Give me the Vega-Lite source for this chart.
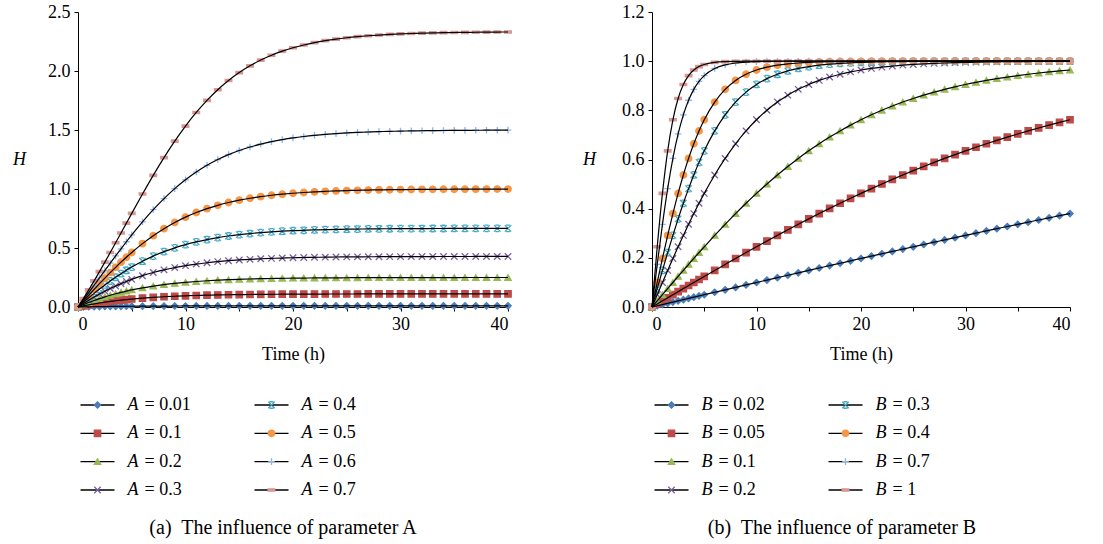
{
"$schema":"https://vega.github.io/schema/vega-lite/v6.json",
"background":"white",
"padding":{"left":12,"top":3,"right":5,"bottom":5},
"bounds":"flush",
"columns":2,
"spacing":{"row":82,"column":144},
"resolve":{"scale":{"shape":"independent","fill":"independent","stroke":"independent","size":"independent","x":"independent","y":"independent"}},
"datasets":{
"a":[
{"t":0,"H":0,"s":"0.01"},{"t":0.5,"H":0.001,"s":"0.01"},{"t":1,"H":0.0018,"s":"0.01"},{"t":1.5,"H":0.0026,"s":"0.01"},{"t":2,"H":0.0033,"s":"0.01"},{"t":2.5,"H":0.004,"s":"0.01"},{"t":3,"H":0.0046,"s":"0.01"},{"t":3.5,"H":0.0051,"s":"0.01"},{"t":4,"H":0.0056,"s":"0.01"},{"t":4.5,"H":0.006,"s":"0.01"},{"t":5,"H":0.0064,"s":"0.01"},{"t":6,"H":0.0071,"s":"0.01"},{"t":7,"H":0.0076,"s":"0.01"},{"t":8,"H":0.0081,"s":"0.01"},{"t":9,"H":0.0084,"s":"0.01"},{"t":10,"H":0.0087,"s":"0.01"},{"t":11,"H":0.009,"s":"0.01"},{"t":12,"H":0.0092,"s":"0.01"},{"t":13,"H":0.0094,"s":"0.01"},{"t":14,"H":0.0095,"s":"0.01"},{"t":15,"H":0.0096,"s":"0.01"},{"t":16,"H":0.0097,"s":"0.01"},{"t":17,"H":0.0098,"s":"0.01"},{"t":18,"H":0.0098,"s":"0.01"},{"t":19,"H":0.0099,"s":"0.01"},{"t":20,"H":0.0099,"s":"0.01"},{"t":21,"H":0.01,"s":"0.01"},{"t":22,"H":0.01,"s":"0.01"},{"t":23,"H":0.01,"s":"0.01"},{"t":24,"H":0.01,"s":"0.01"},{"t":25,"H":0.01,"s":"0.01"},{"t":26,"H":0.0101,"s":"0.01"},{"t":27,"H":0.0101,"s":"0.01"},{"t":28,"H":0.0101,"s":"0.01"},{"t":29,"H":0.0101,"s":"0.01"},{"t":30,"H":0.0101,"s":"0.01"},{"t":31,"H":0.0101,"s":"0.01"},{"t":32,"H":0.0101,"s":"0.01"},{"t":33,"H":0.0101,"s":"0.01"},{"t":34,"H":0.0101,"s":"0.01"},{"t":35,"H":0.0101,"s":"0.01"},{"t":36,"H":0.0101,"s":"0.01"},{"t":37,"H":0.0101,"s":"0.01"},{"t":38,"H":0.0101,"s":"0.01"},{"t":39,"H":0.0101,"s":"0.01"},{"t":40,"H":0.0101,"s":"0.01"},
{"t":0,"H":0,"s":"0.1"},{"t":0.5,"H":0.0096,"s":"0.1"},{"t":1,"H":0.0185,"s":"0.1"},{"t":1.5,"H":0.0266,"s":"0.1"},{"t":2,"H":0.0341,"s":"0.1"},{"t":2.5,"H":0.041,"s":"0.1"},{"t":3,"H":0.0473,"s":"0.1"},{"t":3.5,"H":0.053,"s":"0.1"},{"t":4,"H":0.0583,"s":"0.1"},{"t":4.5,"H":0.0631,"s":"0.1"},{"t":5,"H":0.0675,"s":"0.1"},{"t":6,"H":0.0751,"s":"0.1"},{"t":7,"H":0.0815,"s":"0.1"},{"t":8,"H":0.0867,"s":"0.1"},{"t":9,"H":0.0911,"s":"0.1"},{"t":10,"H":0.0947,"s":"0.1"},{"t":11,"H":0.0976,"s":"0.1"},{"t":12,"H":0.1,"s":"0.1"},{"t":13,"H":0.102,"s":"0.1"},{"t":14,"H":0.1037,"s":"0.1"},{"t":15,"H":0.105,"s":"0.1"},{"t":16,"H":0.1061,"s":"0.1"},{"t":17,"H":0.107,"s":"0.1"},{"t":18,"H":0.1078,"s":"0.1"},{"t":19,"H":0.1084,"s":"0.1"},{"t":20,"H":0.1089,"s":"0.1"},{"t":21,"H":0.1093,"s":"0.1"},{"t":22,"H":0.1096,"s":"0.1"},{"t":23,"H":0.1099,"s":"0.1"},{"t":24,"H":0.1101,"s":"0.1"},{"t":25,"H":0.1103,"s":"0.1"},{"t":26,"H":0.1104,"s":"0.1"},{"t":27,"H":0.1106,"s":"0.1"},{"t":28,"H":0.1107,"s":"0.1"},{"t":29,"H":0.1107,"s":"0.1"},{"t":30,"H":0.1108,"s":"0.1"},{"t":31,"H":0.1109,"s":"0.1"},{"t":32,"H":0.1109,"s":"0.1"},{"t":33,"H":0.1109,"s":"0.1"},{"t":34,"H":0.111,"s":"0.1"},{"t":35,"H":0.111,"s":"0.1"},{"t":36,"H":0.111,"s":"0.1"},{"t":37,"H":0.111,"s":"0.1"},{"t":38,"H":0.111,"s":"0.1"},{"t":39,"H":0.111,"s":"0.1"},{"t":40,"H":0.111,"s":"0.1"},
{"t":0,"H":0,"s":"0.2"},{"t":0.5,"H":0.0194,"s":"0.2"},{"t":1,"H":0.0376,"s":"0.2"},{"t":1.5,"H":0.0547,"s":"0.2"},{"t":2,"H":0.0706,"s":"0.2"},{"t":2.5,"H":0.0854,"s":"0.2"},{"t":3,"H":0.0992,"s":"0.2"},{"t":3.5,"H":0.112,"s":"0.2"},{"t":4,"H":0.1238,"s":"0.2"},{"t":4.5,"H":0.1347,"s":"0.2"},{"t":5,"H":0.1447,"s":"0.2"},{"t":6,"H":0.1625,"s":"0.2"},{"t":7,"H":0.1774,"s":"0.2"},{"t":8,"H":0.1899,"s":"0.2"},{"t":9,"H":0.2004,"s":"0.2"},{"t":10,"H":0.2091,"s":"0.2"},{"t":11,"H":0.2163,"s":"0.2"},{"t":12,"H":0.2223,"s":"0.2"},{"t":13,"H":0.2272,"s":"0.2"},{"t":14,"H":0.2313,"s":"0.2"},{"t":15,"H":0.2346,"s":"0.2"},{"t":16,"H":0.2374,"s":"0.2"},{"t":17,"H":0.2397,"s":"0.2"},{"t":18,"H":0.2415,"s":"0.2"},{"t":19,"H":0.2431,"s":"0.2"},{"t":20,"H":0.2443,"s":"0.2"},{"t":21,"H":0.2453,"s":"0.2"},{"t":22,"H":0.2462,"s":"0.2"},{"t":23,"H":0.2469,"s":"0.2"},{"t":24,"H":0.2474,"s":"0.2"},{"t":25,"H":0.2479,"s":"0.2"},{"t":26,"H":0.2483,"s":"0.2"},{"t":27,"H":0.2486,"s":"0.2"},{"t":28,"H":0.2489,"s":"0.2"},{"t":29,"H":0.2491,"s":"0.2"},{"t":30,"H":0.2492,"s":"0.2"},{"t":31,"H":0.2494,"s":"0.2"},{"t":32,"H":0.2495,"s":"0.2"},{"t":33,"H":0.2496,"s":"0.2"},{"t":34,"H":0.2497,"s":"0.2"},{"t":35,"H":0.2497,"s":"0.2"},{"t":36,"H":0.2498,"s":"0.2"},{"t":37,"H":0.2498,"s":"0.2"},{"t":38,"H":0.2498,"s":"0.2"},{"t":39,"H":0.2499,"s":"0.2"},{"t":40,"H":0.2499,"s":"0.2"},
{"t":0,"H":0,"s":"0.3"},{"t":0.5,"H":0.0294,"s":"0.3"},{"t":1,"H":0.0575,"s":"0.3"},{"t":1.5,"H":0.0843,"s":"0.3"},{"t":2,"H":0.1098,"s":"0.3"},{"t":2.5,"H":0.1338,"s":"0.3"},{"t":3,"H":0.1566,"s":"0.3"},{"t":3.5,"H":0.1779,"s":"0.3"},{"t":4,"H":0.1979,"s":"0.3"},{"t":4.5,"H":0.2166,"s":"0.3"},{"t":5,"H":0.234,"s":"0.3"},{"t":6,"H":0.2653,"s":"0.3"},{"t":7,"H":0.292,"s":"0.3"},{"t":8,"H":0.3148,"s":"0.3"},{"t":9,"H":0.3341,"s":"0.3"},{"t":10,"H":0.3503,"s":"0.3"},{"t":11,"H":0.3638,"s":"0.3"},{"t":12,"H":0.3751,"s":"0.3"},{"t":13,"H":0.3845,"s":"0.3"},{"t":14,"H":0.3923,"s":"0.3"},{"t":15,"H":0.3987,"s":"0.3"},{"t":16,"H":0.404,"s":"0.3"},{"t":17,"H":0.4084,"s":"0.3"},{"t":18,"H":0.412,"s":"0.3"},{"t":19,"H":0.415,"s":"0.3"},{"t":20,"H":0.4174,"s":"0.3"},{"t":21,"H":0.4195,"s":"0.3"},{"t":22,"H":0.4211,"s":"0.3"},{"t":23,"H":0.4224,"s":"0.3"},{"t":24,"H":0.4236,"s":"0.3"},{"t":25,"H":0.4245,"s":"0.3"},{"t":26,"H":0.4252,"s":"0.3"},{"t":27,"H":0.4258,"s":"0.3"},{"t":28,"H":0.4263,"s":"0.3"},{"t":29,"H":0.4267,"s":"0.3"},{"t":30,"H":0.4271,"s":"0.3"},{"t":31,"H":0.4273,"s":"0.3"},{"t":32,"H":0.4276,"s":"0.3"},{"t":33,"H":0.4277,"s":"0.3"},{"t":34,"H":0.4279,"s":"0.3"},{"t":35,"H":0.428,"s":"0.3"},{"t":36,"H":0.4281,"s":"0.3"},{"t":37,"H":0.4282,"s":"0.3"},{"t":38,"H":0.4283,"s":"0.3"},{"t":39,"H":0.4283,"s":"0.3"},{"t":40,"H":0.4284,"s":"0.3"},
{"t":0,"H":0,"s":"0.4"},{"t":0.5,"H":0.0396,"s":"0.4"},{"t":1,"H":0.0782,"s":"0.4"},{"t":1.5,"H":0.1157,"s":"0.4"},{"t":2,"H":0.1519,"s":"0.4"},{"t":2.5,"H":0.1868,"s":"0.4"},{"t":3,"H":0.2202,"s":"0.4"},{"t":3.5,"H":0.2521,"s":"0.4"},{"t":4,"H":0.2825,"s":"0.4"},{"t":4.5,"H":0.3113,"s":"0.4"},{"t":5,"H":0.3384,"s":"0.4"},{"t":6,"H":0.388,"s":"0.4"},{"t":7,"H":0.4314,"s":"0.4"},{"t":8,"H":0.469,"s":"0.4"},{"t":9,"H":0.5012,"s":"0.4"},{"t":10,"H":0.5287,"s":"0.4"},{"t":11,"H":0.552,"s":"0.4"},{"t":12,"H":0.5716,"s":"0.4"},{"t":13,"H":0.588,"s":"0.4"},{"t":14,"H":0.6017,"s":"0.4"},{"t":15,"H":0.6131,"s":"0.4"},{"t":16,"H":0.6226,"s":"0.4"},{"t":17,"H":0.6304,"s":"0.4"},{"t":18,"H":0.6369,"s":"0.4"},{"t":19,"H":0.6422,"s":"0.4"},{"t":20,"H":0.6466,"s":"0.4"},{"t":21,"H":0.6502,"s":"0.4"},{"t":22,"H":0.6531,"s":"0.4"},{"t":23,"H":0.6556,"s":"0.4"},{"t":24,"H":0.6576,"s":"0.4"},{"t":25,"H":0.6592,"s":"0.4"},{"t":26,"H":0.6606,"s":"0.4"},{"t":27,"H":0.6617,"s":"0.4"},{"t":28,"H":0.6626,"s":"0.4"},{"t":29,"H":0.6633,"s":"0.4"},{"t":30,"H":0.6639,"s":"0.4"},{"t":31,"H":0.6644,"s":"0.4"},{"t":32,"H":0.6648,"s":"0.4"},{"t":33,"H":0.6652,"s":"0.4"},{"t":34,"H":0.6654,"s":"0.4"},{"t":35,"H":0.6657,"s":"0.4"},{"t":36,"H":0.6658,"s":"0.4"},{"t":37,"H":0.666,"s":"0.4"},{"t":38,"H":0.6661,"s":"0.4"},{"t":39,"H":0.6662,"s":"0.4"},{"t":40,"H":0.6663,"s":"0.4"},
{"t":0,"H":0,"s":"0.5"},{"t":0.5,"H":0.05,"s":"0.5"},{"t":1,"H":0.0997,"s":"0.5"},{"t":1.5,"H":0.1489,"s":"0.5"},{"t":2,"H":0.1974,"s":"0.5"},{"t":2.5,"H":0.2449,"s":"0.5"},{"t":3,"H":0.2913,"s":"0.5"},{"t":3.5,"H":0.3364,"s":"0.5"},{"t":4,"H":0.38,"s":"0.5"},{"t":4.5,"H":0.4219,"s":"0.5"},{"t":5,"H":0.4621,"s":"0.5"},{"t":6,"H":0.5371,"s":"0.5"},{"t":7,"H":0.6044,"s":"0.5"},{"t":8,"H":0.664,"s":"0.5"},{"t":9,"H":0.7163,"s":"0.5"},{"t":10,"H":0.7616,"s":"0.5"},{"t":11,"H":0.8005,"s":"0.5"},{"t":12,"H":0.8337,"s":"0.5"},{"t":13,"H":0.8617,"s":"0.5"},{"t":14,"H":0.8854,"s":"0.5"},{"t":15,"H":0.9052,"s":"0.5"},{"t":16,"H":0.9217,"s":"0.5"},{"t":17,"H":0.9354,"s":"0.5"},{"t":18,"H":0.9468,"s":"0.5"},{"t":19,"H":0.9562,"s":"0.5"},{"t":20,"H":0.964,"s":"0.5"},{"t":21,"H":0.9705,"s":"0.5"},{"t":22,"H":0.9757,"s":"0.5"},{"t":23,"H":0.9801,"s":"0.5"},{"t":24,"H":0.9837,"s":"0.5"},{"t":25,"H":0.9866,"s":"0.5"},{"t":26,"H":0.989,"s":"0.5"},{"t":27,"H":0.991,"s":"0.5"},{"t":28,"H":0.9926,"s":"0.5"},{"t":29,"H":0.994,"s":"0.5"},{"t":30,"H":0.9951,"s":"0.5"},{"t":31,"H":0.9959,"s":"0.5"},{"t":32,"H":0.9967,"s":"0.5"},{"t":33,"H":0.9973,"s":"0.5"},{"t":34,"H":0.9978,"s":"0.5"},{"t":35,"H":0.9982,"s":"0.5"},{"t":36,"H":0.9985,"s":"0.5"},{"t":37,"H":0.9988,"s":"0.5"},{"t":38,"H":0.999,"s":"0.5"},{"t":39,"H":0.9992,"s":"0.5"},{"t":40,"H":0.9993,"s":"0.5"},
{"t":0,"H":0,"s":"0.6"},{"t":0.5,"H":0.0606,"s":"0.6"},{"t":1,"H":0.122,"s":"0.6"},{"t":1.5,"H":0.1842,"s":"0.6"},{"t":2,"H":0.2466,"s":"0.6"},{"t":2.5,"H":0.309,"s":"0.6"},{"t":3,"H":0.3712,"s":"0.6"},{"t":3.5,"H":0.4328,"s":"0.6"},{"t":4,"H":0.4934,"s":"0.6"},{"t":4.5,"H":0.5529,"s":"0.6"},{"t":5,"H":0.611,"s":"0.6"},{"t":6,"H":0.722,"s":"0.6"},{"t":7,"H":0.825,"s":"0.6"},{"t":8,"H":0.9189,"s":"0.6"},{"t":9,"H":1.0033,"s":"0.6"},{"t":10,"H":1.0781,"s":"0.6"},{"t":11,"H":1.1437,"s":"0.6"},{"t":12,"H":1.2006,"s":"0.6"},{"t":13,"H":1.2494,"s":"0.6"},{"t":14,"H":1.291,"s":"0.6"},{"t":15,"H":1.3263,"s":"0.6"},{"t":16,"H":1.356,"s":"0.6"},{"t":17,"H":1.3808,"s":"0.6"},{"t":18,"H":1.4016,"s":"0.6"},{"t":19,"H":1.4188,"s":"0.6"},{"t":20,"H":1.4332,"s":"0.6"},{"t":21,"H":1.445,"s":"0.6"},{"t":22,"H":1.4548,"s":"0.6"},{"t":23,"H":1.4629,"s":"0.6"},{"t":24,"H":1.4695,"s":"0.6"},{"t":25,"H":1.475,"s":"0.6"},{"t":26,"H":1.4795,"s":"0.6"},{"t":27,"H":1.4832,"s":"0.6"},{"t":28,"H":1.4862,"s":"0.6"},{"t":29,"H":1.4887,"s":"0.6"},{"t":30,"H":1.4907,"s":"0.6"},{"t":31,"H":1.4924,"s":"0.6"},{"t":32,"H":1.4938,"s":"0.6"},{"t":33,"H":1.4949,"s":"0.6"},{"t":34,"H":1.4958,"s":"0.6"},{"t":35,"H":1.4966,"s":"0.6"},{"t":36,"H":1.4972,"s":"0.6"},{"t":37,"H":1.4977,"s":"0.6"},{"t":38,"H":1.4981,"s":"0.6"},{"t":39,"H":1.4985,"s":"0.6"},{"t":40,"H":1.4987,"s":"0.6"},
{"t":0,"H":0,"s":"0.7"},{"t":0.5,"H":0.0714,"s":"0.7"},{"t":1,"H":0.1453,"s":"0.7"},{"t":1.5,"H":0.2216,"s":"0.7"},{"t":2,"H":0.3,"s":"0.7"},{"t":2.5,"H":0.3801,"s":"0.7"},{"t":3,"H":0.4616,"s":"0.7"},{"t":3.5,"H":0.5441,"s":"0.7"},{"t":4,"H":0.6273,"s":"0.7"},{"t":4.5,"H":0.7106,"s":"0.7"},{"t":5,"H":0.7937,"s":"0.7"},{"t":6,"H":0.9576,"s":"0.7"},{"t":7,"H":1.1159,"s":"0.7"},{"t":8,"H":1.2659,"s":"0.7"},{"t":9,"H":1.4055,"s":"0.7"},{"t":10,"H":1.5333,"s":"0.7"},{"t":11,"H":1.6486,"s":"0.7"},{"t":12,"H":1.751,"s":"0.7"},{"t":13,"H":1.841,"s":"0.7"},{"t":14,"H":1.9191,"s":"0.7"},{"t":15,"H":1.9864,"s":"0.7"},{"t":16,"H":2.0438,"s":"0.7"},{"t":17,"H":2.0925,"s":"0.7"},{"t":18,"H":2.1336,"s":"0.7"},{"t":19,"H":2.168,"s":"0.7"},{"t":20,"H":2.1967,"s":"0.7"},{"t":21,"H":2.2206,"s":"0.7"},{"t":22,"H":2.2405,"s":"0.7"},{"t":23,"H":2.2569,"s":"0.7"},{"t":24,"H":2.2705,"s":"0.7"},{"t":25,"H":2.2817,"s":"0.7"},{"t":26,"H":2.291,"s":"0.7"},{"t":27,"H":2.2986,"s":"0.7"},{"t":28,"H":2.3048,"s":"0.7"},{"t":29,"H":2.31,"s":"0.7"},{"t":30,"H":2.3142,"s":"0.7"},{"t":31,"H":2.3176,"s":"0.7"},{"t":32,"H":2.3205,"s":"0.7"},{"t":33,"H":2.3228,"s":"0.7"},{"t":34,"H":2.3247,"s":"0.7"},{"t":35,"H":2.3263,"s":"0.7"},{"t":36,"H":2.3275,"s":"0.7"},{"t":37,"H":2.3286,"s":"0.7"},{"t":38,"H":2.3294,"s":"0.7"},{"t":39,"H":2.3302,"s":"0.7"},{"t":40,"H":2.3307,"s":"0.7"}
],
"b":[
{"t":0,"H":0,"s":"0.02"},{"t":0.5,"H":0.005,"s":"0.02"},{"t":1,"H":0.01,"s":"0.02"},{"t":1.5,"H":0.015,"s":"0.02"},{"t":2,"H":0.02,"s":"0.02"},{"t":2.5,"H":0.025,"s":"0.02"},{"t":3,"H":0.03,"s":"0.02"},{"t":3.5,"H":0.035,"s":"0.02"},{"t":4,"H":0.04,"s":"0.02"},{"t":4.5,"H":0.045,"s":"0.02"},{"t":5,"H":0.05,"s":"0.02"},{"t":6,"H":0.0599,"s":"0.02"},{"t":7,"H":0.0699,"s":"0.02"},{"t":8,"H":0.0798,"s":"0.02"},{"t":9,"H":0.0898,"s":"0.02"},{"t":10,"H":0.0997,"s":"0.02"},{"t":11,"H":0.1096,"s":"0.02"},{"t":12,"H":0.1194,"s":"0.02"},{"t":13,"H":0.1293,"s":"0.02"},{"t":14,"H":0.1391,"s":"0.02"},{"t":15,"H":0.1489,"s":"0.02"},{"t":16,"H":0.1587,"s":"0.02"},{"t":17,"H":0.1684,"s":"0.02"},{"t":18,"H":0.1781,"s":"0.02"},{"t":19,"H":0.1877,"s":"0.02"},{"t":20,"H":0.1974,"s":"0.02"},{"t":21,"H":0.207,"s":"0.02"},{"t":22,"H":0.2165,"s":"0.02"},{"t":23,"H":0.226,"s":"0.02"},{"t":24,"H":0.2355,"s":"0.02"},{"t":25,"H":0.2449,"s":"0.02"},{"t":26,"H":0.2543,"s":"0.02"},{"t":27,"H":0.2636,"s":"0.02"},{"t":28,"H":0.2729,"s":"0.02"},{"t":29,"H":0.2821,"s":"0.02"},{"t":30,"H":0.2913,"s":"0.02"},{"t":31,"H":0.3004,"s":"0.02"},{"t":32,"H":0.3095,"s":"0.02"},{"t":33,"H":0.3185,"s":"0.02"},{"t":34,"H":0.3275,"s":"0.02"},{"t":35,"H":0.3364,"s":"0.02"},{"t":36,"H":0.3452,"s":"0.02"},{"t":37,"H":0.354,"s":"0.02"},{"t":38,"H":0.3627,"s":"0.02"},{"t":39,"H":0.3714,"s":"0.02"},{"t":40,"H":0.38,"s":"0.02"},
{"t":0,"H":0,"s":"0.05"},{"t":0.5,"H":0.0125,"s":"0.05"},{"t":1,"H":0.025,"s":"0.05"},{"t":1.5,"H":0.0375,"s":"0.05"},{"t":2,"H":0.05,"s":"0.05"},{"t":2.5,"H":0.0624,"s":"0.05"},{"t":3,"H":0.0749,"s":"0.05"},{"t":3.5,"H":0.0873,"s":"0.05"},{"t":4,"H":0.0997,"s":"0.05"},{"t":4.5,"H":0.112,"s":"0.05"},{"t":5,"H":0.1244,"s":"0.05"},{"t":6,"H":0.1489,"s":"0.05"},{"t":7,"H":0.1732,"s":"0.05"},{"t":8,"H":0.1974,"s":"0.05"},{"t":9,"H":0.2213,"s":"0.05"},{"t":10,"H":0.2449,"s":"0.05"},{"t":11,"H":0.2683,"s":"0.05"},{"t":12,"H":0.2913,"s":"0.05"},{"t":13,"H":0.314,"s":"0.05"},{"t":14,"H":0.3364,"s":"0.05"},{"t":15,"H":0.3584,"s":"0.05"},{"t":16,"H":0.38,"s":"0.05"},{"t":17,"H":0.4011,"s":"0.05"},{"t":18,"H":0.4219,"s":"0.05"},{"t":19,"H":0.4422,"s":"0.05"},{"t":20,"H":0.4621,"s":"0.05"},{"t":21,"H":0.4816,"s":"0.05"},{"t":22,"H":0.5005,"s":"0.05"},{"t":23,"H":0.519,"s":"0.05"},{"t":24,"H":0.5371,"s":"0.05"},{"t":25,"H":0.5546,"s":"0.05"},{"t":26,"H":0.5717,"s":"0.05"},{"t":27,"H":0.5883,"s":"0.05"},{"t":28,"H":0.6044,"s":"0.05"},{"t":29,"H":0.62,"s":"0.05"},{"t":30,"H":0.6352,"s":"0.05"},{"t":31,"H":0.6498,"s":"0.05"},{"t":32,"H":0.664,"s":"0.05"},{"t":33,"H":0.6778,"s":"0.05"},{"t":34,"H":0.6911,"s":"0.05"},{"t":35,"H":0.7039,"s":"0.05"},{"t":36,"H":0.7163,"s":"0.05"},{"t":37,"H":0.7283,"s":"0.05"},{"t":38,"H":0.7398,"s":"0.05"},{"t":39,"H":0.7509,"s":"0.05"},{"t":40,"H":0.7616,"s":"0.05"},
{"t":0,"H":0,"s":"0.1"},{"t":0.5,"H":0.025,"s":"0.1"},{"t":1,"H":0.05,"s":"0.1"},{"t":1.5,"H":0.0749,"s":"0.1"},{"t":2,"H":0.0997,"s":"0.1"},{"t":2.5,"H":0.1244,"s":"0.1"},{"t":3,"H":0.1489,"s":"0.1"},{"t":3.5,"H":0.1732,"s":"0.1"},{"t":4,"H":0.1974,"s":"0.1"},{"t":4.5,"H":0.2213,"s":"0.1"},{"t":5,"H":0.2449,"s":"0.1"},{"t":6,"H":0.2913,"s":"0.1"},{"t":7,"H":0.3364,"s":"0.1"},{"t":8,"H":0.38,"s":"0.1"},{"t":9,"H":0.4219,"s":"0.1"},{"t":10,"H":0.4621,"s":"0.1"},{"t":11,"H":0.5005,"s":"0.1"},{"t":12,"H":0.5371,"s":"0.1"},{"t":13,"H":0.5717,"s":"0.1"},{"t":14,"H":0.6044,"s":"0.1"},{"t":15,"H":0.6352,"s":"0.1"},{"t":16,"H":0.664,"s":"0.1"},{"t":17,"H":0.6911,"s":"0.1"},{"t":18,"H":0.7163,"s":"0.1"},{"t":19,"H":0.7398,"s":"0.1"},{"t":20,"H":0.7616,"s":"0.1"},{"t":21,"H":0.7818,"s":"0.1"},{"t":22,"H":0.8005,"s":"0.1"},{"t":23,"H":0.8178,"s":"0.1"},{"t":24,"H":0.8337,"s":"0.1"},{"t":25,"H":0.8483,"s":"0.1"},{"t":26,"H":0.8617,"s":"0.1"},{"t":27,"H":0.8741,"s":"0.1"},{"t":28,"H":0.8854,"s":"0.1"},{"t":29,"H":0.8957,"s":"0.1"},{"t":30,"H":0.9052,"s":"0.1"},{"t":31,"H":0.9138,"s":"0.1"},{"t":32,"H":0.9217,"s":"0.1"},{"t":33,"H":0.9289,"s":"0.1"},{"t":34,"H":0.9354,"s":"0.1"},{"t":35,"H":0.9414,"s":"0.1"},{"t":36,"H":0.9468,"s":"0.1"},{"t":37,"H":0.9518,"s":"0.1"},{"t":38,"H":0.9562,"s":"0.1"},{"t":39,"H":0.9603,"s":"0.1"},{"t":40,"H":0.964,"s":"0.1"},
{"t":0,"H":0,"s":"0.2"},{"t":0.5,"H":0.05,"s":"0.2"},{"t":1,"H":0.0997,"s":"0.2"},{"t":1.5,"H":0.1489,"s":"0.2"},{"t":2,"H":0.1974,"s":"0.2"},{"t":2.5,"H":0.2449,"s":"0.2"},{"t":3,"H":0.2913,"s":"0.2"},{"t":3.5,"H":0.3364,"s":"0.2"},{"t":4,"H":0.38,"s":"0.2"},{"t":4.5,"H":0.4219,"s":"0.2"},{"t":5,"H":0.4621,"s":"0.2"},{"t":6,"H":0.5371,"s":"0.2"},{"t":7,"H":0.6044,"s":"0.2"},{"t":8,"H":0.664,"s":"0.2"},{"t":9,"H":0.7163,"s":"0.2"},{"t":10,"H":0.7616,"s":"0.2"},{"t":11,"H":0.8005,"s":"0.2"},{"t":12,"H":0.8337,"s":"0.2"},{"t":13,"H":0.8617,"s":"0.2"},{"t":14,"H":0.8854,"s":"0.2"},{"t":15,"H":0.9052,"s":"0.2"},{"t":16,"H":0.9217,"s":"0.2"},{"t":17,"H":0.9354,"s":"0.2"},{"t":18,"H":0.9468,"s":"0.2"},{"t":19,"H":0.9562,"s":"0.2"},{"t":20,"H":0.964,"s":"0.2"},{"t":21,"H":0.9705,"s":"0.2"},{"t":22,"H":0.9757,"s":"0.2"},{"t":23,"H":0.9801,"s":"0.2"},{"t":24,"H":0.9837,"s":"0.2"},{"t":25,"H":0.9866,"s":"0.2"},{"t":26,"H":0.989,"s":"0.2"},{"t":27,"H":0.991,"s":"0.2"},{"t":28,"H":0.9926,"s":"0.2"},{"t":29,"H":0.994,"s":"0.2"},{"t":30,"H":0.9951,"s":"0.2"},{"t":31,"H":0.9959,"s":"0.2"},{"t":32,"H":0.9967,"s":"0.2"},{"t":33,"H":0.9973,"s":"0.2"},{"t":34,"H":0.9978,"s":"0.2"},{"t":35,"H":0.9982,"s":"0.2"},{"t":36,"H":0.9985,"s":"0.2"},{"t":37,"H":0.9988,"s":"0.2"},{"t":38,"H":0.999,"s":"0.2"},{"t":39,"H":0.9992,"s":"0.2"},{"t":40,"H":0.9993,"s":"0.2"},
{"t":0,"H":0,"s":"0.3"},{"t":0.5,"H":0.0749,"s":"0.3"},{"t":1,"H":0.1489,"s":"0.3"},{"t":1.5,"H":0.2213,"s":"0.3"},{"t":2,"H":0.2913,"s":"0.3"},{"t":2.5,"H":0.3584,"s":"0.3"},{"t":3,"H":0.4219,"s":"0.3"},{"t":3.5,"H":0.4816,"s":"0.3"},{"t":4,"H":0.5371,"s":"0.3"},{"t":4.5,"H":0.5883,"s":"0.3"},{"t":5,"H":0.6352,"s":"0.3"},{"t":6,"H":0.7163,"s":"0.3"},{"t":7,"H":0.7818,"s":"0.3"},{"t":8,"H":0.8337,"s":"0.3"},{"t":9,"H":0.8741,"s":"0.3"},{"t":10,"H":0.9052,"s":"0.3"},{"t":11,"H":0.9289,"s":"0.3"},{"t":12,"H":0.9468,"s":"0.3"},{"t":13,"H":0.9603,"s":"0.3"},{"t":14,"H":0.9705,"s":"0.3"},{"t":15,"H":0.978,"s":"0.3"},{"t":16,"H":0.9837,"s":"0.3"},{"t":17,"H":0.9879,"s":"0.3"},{"t":18,"H":0.991,"s":"0.3"},{"t":19,"H":0.9933,"s":"0.3"},{"t":20,"H":0.9951,"s":"0.3"},{"t":21,"H":0.9963,"s":"0.3"},{"t":22,"H":0.9973,"s":"0.3"},{"t":23,"H":0.998,"s":"0.3"},{"t":24,"H":0.9985,"s":"0.3"},{"t":25,"H":0.9989,"s":"0.3"},{"t":26,"H":0.9992,"s":"0.3"},{"t":27,"H":0.9994,"s":"0.3"},{"t":28,"H":0.9995,"s":"0.3"},{"t":29,"H":0.9997,"s":"0.3"},{"t":30,"H":0.9998,"s":"0.3"},{"t":31,"H":0.9998,"s":"0.3"},{"t":32,"H":0.9999,"s":"0.3"},{"t":33,"H":1,"s":"0.3"},{"t":34,"H":1,"s":"0.3"},{"t":35,"H":1,"s":"0.3"},{"t":36,"H":1,"s":"0.3"},{"t":37,"H":1,"s":"0.3"},{"t":38,"H":1,"s":"0.3"},{"t":39,"H":1,"s":"0.3"},{"t":40,"H":1,"s":"0.3"},
{"t":0,"H":0,"s":"0.4"},{"t":0.5,"H":0.0997,"s":"0.4"},{"t":1,"H":0.1974,"s":"0.4"},{"t":1.5,"H":0.2913,"s":"0.4"},{"t":2,"H":0.38,"s":"0.4"},{"t":2.5,"H":0.4621,"s":"0.4"},{"t":3,"H":0.5371,"s":"0.4"},{"t":3.5,"H":0.6044,"s":"0.4"},{"t":4,"H":0.664,"s":"0.4"},{"t":4.5,"H":0.7163,"s":"0.4"},{"t":5,"H":0.7616,"s":"0.4"},{"t":6,"H":0.8337,"s":"0.4"},{"t":7,"H":0.8854,"s":"0.4"},{"t":8,"H":0.9217,"s":"0.4"},{"t":9,"H":0.9468,"s":"0.4"},{"t":10,"H":0.964,"s":"0.4"},{"t":11,"H":0.9757,"s":"0.4"},{"t":12,"H":0.9837,"s":"0.4"},{"t":13,"H":0.989,"s":"0.4"},{"t":14,"H":0.9926,"s":"0.4"},{"t":15,"H":0.9951,"s":"0.4"},{"t":16,"H":0.9967,"s":"0.4"},{"t":17,"H":0.9978,"s":"0.4"},{"t":18,"H":0.9985,"s":"0.4"},{"t":19,"H":0.999,"s":"0.4"},{"t":20,"H":0.9993,"s":"0.4"},{"t":21,"H":0.9995,"s":"0.4"},{"t":22,"H":0.9997,"s":"0.4"},{"t":23,"H":0.9998,"s":"0.4"},{"t":24,"H":0.9999,"s":"0.4"},{"t":25,"H":1,"s":"0.4"},{"t":26,"H":1,"s":"0.4"},{"t":27,"H":1,"s":"0.4"},{"t":28,"H":1,"s":"0.4"},{"t":29,"H":1,"s":"0.4"},{"t":30,"H":1,"s":"0.4"},{"t":31,"H":1,"s":"0.4"},{"t":32,"H":1,"s":"0.4"},{"t":33,"H":1,"s":"0.4"},{"t":34,"H":1,"s":"0.4"},{"t":35,"H":1,"s":"0.4"},{"t":36,"H":1,"s":"0.4"},{"t":37,"H":1,"s":"0.4"},{"t":38,"H":1,"s":"0.4"},{"t":39,"H":1,"s":"0.4"},{"t":40,"H":1,"s":"0.4"},
{"t":0,"H":0,"s":"0.7"},{"t":0.5,"H":0.1732,"s":"0.7"},{"t":1,"H":0.3364,"s":"0.7"},{"t":1.5,"H":0.4816,"s":"0.7"},{"t":2,"H":0.6044,"s":"0.7"},{"t":2.5,"H":0.7039,"s":"0.7"},{"t":3,"H":0.7818,"s":"0.7"},{"t":3.5,"H":0.8411,"s":"0.7"},{"t":4,"H":0.8854,"s":"0.7"},{"t":4.5,"H":0.9178,"s":"0.7"},{"t":5,"H":0.9414,"s":"0.7"},{"t":6,"H":0.9705,"s":"0.7"},{"t":7,"H":0.9852,"s":"0.7"},{"t":8,"H":0.9926,"s":"0.7"},{"t":9,"H":0.9963,"s":"0.7"},{"t":10,"H":0.9982,"s":"0.7"},{"t":11,"H":0.9991,"s":"0.7"},{"t":12,"H":0.9995,"s":"0.7"},{"t":13,"H":0.9998,"s":"0.7"},{"t":14,"H":0.9999,"s":"0.7"},{"t":15,"H":1,"s":"0.7"},{"t":16,"H":1,"s":"0.7"},{"t":17,"H":1,"s":"0.7"},{"t":18,"H":1,"s":"0.7"},{"t":19,"H":1,"s":"0.7"},{"t":20,"H":1,"s":"0.7"},{"t":21,"H":1,"s":"0.7"},{"t":22,"H":1,"s":"0.7"},{"t":23,"H":1,"s":"0.7"},{"t":24,"H":1,"s":"0.7"},{"t":25,"H":1,"s":"0.7"},{"t":26,"H":1,"s":"0.7"},{"t":27,"H":1,"s":"0.7"},{"t":28,"H":1,"s":"0.7"},{"t":29,"H":1,"s":"0.7"},{"t":30,"H":1,"s":"0.7"},{"t":31,"H":1,"s":"0.7"},{"t":32,"H":1,"s":"0.7"},{"t":33,"H":1,"s":"0.7"},{"t":34,"H":1,"s":"0.7"},{"t":35,"H":1,"s":"0.7"},{"t":36,"H":1,"s":"0.7"},{"t":37,"H":1,"s":"0.7"},{"t":38,"H":1,"s":"0.7"},{"t":39,"H":1,"s":"0.7"},{"t":40,"H":1,"s":"0.7"},
{"t":0,"H":0,"s":"1"},{"t":0.5,"H":0.2449,"s":"1"},{"t":1,"H":0.4621,"s":"1"},{"t":1.5,"H":0.6352,"s":"1"},{"t":2,"H":0.7616,"s":"1"},{"t":2.5,"H":0.8483,"s":"1"},{"t":3,"H":0.9052,"s":"1"},{"t":3.5,"H":0.9414,"s":"1"},{"t":4,"H":0.964,"s":"1"},{"t":4.5,"H":0.978,"s":"1"},{"t":5,"H":0.9866,"s":"1"},{"t":6,"H":0.9951,"s":"1"},{"t":7,"H":0.9982,"s":"1"},{"t":8,"H":0.9993,"s":"1"},{"t":9,"H":0.9998,"s":"1"},{"t":10,"H":0.9999,"s":"1"},{"t":11,"H":1,"s":"1"},{"t":12,"H":1,"s":"1"},{"t":13,"H":1,"s":"1"},{"t":14,"H":1,"s":"1"},{"t":15,"H":1,"s":"1"},{"t":16,"H":1,"s":"1"},{"t":17,"H":1,"s":"1"},{"t":18,"H":1,"s":"1"},{"t":19,"H":1,"s":"1"},{"t":20,"H":1,"s":"1"},{"t":21,"H":1,"s":"1"},{"t":22,"H":1,"s":"1"},{"t":23,"H":1,"s":"1"},{"t":24,"H":1,"s":"1"},{"t":25,"H":1,"s":"1"},{"t":26,"H":1,"s":"1"},{"t":27,"H":1,"s":"1"},{"t":28,"H":1,"s":"1"},{"t":29,"H":1,"s":"1"},{"t":30,"H":1,"s":"1"},{"t":31,"H":1,"s":"1"},{"t":32,"H":1,"s":"1"},{"t":33,"H":1,"s":"1"},{"t":34,"H":1,"s":"1"},{"t":35,"H":1,"s":"1"},{"t":36,"H":1,"s":"1"},{"t":37,"H":1,"s":"1"},{"t":38,"H":1,"s":"1"},{"t":39,"H":1,"s":"1"},{"t":40,"H":1,"s":"1"}
],
"legA":[
{"k":"A","s":"0.01","lab":"= 0.01"},{"k":"A","s":"0.1","lab":"= 0.1"},{"k":"A","s":"0.2","lab":"= 0.2"},{"k":"A","s":"0.3","lab":"= 0.3"},{"k":"A","s":"0.4","lab":"= 0.4"},{"k":"A","s":"0.5","lab":"= 0.5"},{"k":"A","s":"0.6","lab":"= 0.6"},{"k":"A","s":"0.7","lab":"= 0.7"}
],
"legB":[
{"k":"B","s":"0.02","lab":"= 0.02"},{"k":"B","s":"0.05","lab":"= 0.05"},{"k":"B","s":"0.1","lab":"= 0.1"},{"k":"B","s":"0.2","lab":"= 0.2"},{"k":"B","s":"0.3","lab":"= 0.3"},{"k":"B","s":"0.4","lab":"= 0.4"},{"k":"B","s":"0.7","lab":"= 0.7"},{"k":"B","s":"1","lab":"= 1"}
]
},
"concat":[
 {"width":430,"height":295,"data":{"name":"a"},
  "encoding":{
   "x":{"field":"t","type":"quantitative","scale":{"domain":[0,40],"nice":false},"axis":{"title":"Time (h)","values":[0,5,10,15,20,25,30,35,40],"labelExpr":"datum.value % 10 == 0 ? datum.label : ''","titlePadding":12}},
   "y":{"field":"H","type":"quantitative","scale":{"domain":[0,2.5],"nice":false},"axis":{"title":"H","values":[0,0.5,1,1.5,2,2.5],"format":".1f","titleFontStyle":"italic","titleAngle":0,"titleX":-59,"titleY":147,"titleAlign":"center","titleBaseline":"middle"}}
  },
  "layer":[
   {"mark":{"type":"point","opacity":1,"strokeWidth":1.3},
    "encoding":{
     "shape":{"field":"s","type":"nominal","legend":null,"scale":{"domain":["0.01","0.1","0.2","0.3","0.4","0.5","0.6","0.7"],"range":["diamond","square","triangle-up","M-1,-1L1,1M-1,1L1,-1","M-1,-1L1,1M-1,1L1,-1M-0.6,-1H0.6M-0.6,1H0.6","circle","M-1,0H1M0,-1V1","M-1,-0.35H1V0.35H-1Z"]}},
     "fill":{"field":"s","type":"nominal","legend":null,"scale":{"domain":["0.01","0.1","0.2","0.3","0.4","0.5","0.6","0.7"],"range":["#4A7EBB","#BE4B48","#98B954","transparent","transparent","#F79646","transparent","#D99694"]}},
     "stroke":{"field":"s","type":"nominal","legend":null,"scale":{"domain":["0.01","0.1","0.2","0.3","0.4","0.5","0.6","0.7"],"range":["#4A7EBB","#BE4B48","#98B954","#7D60A0","#46AAC5","#F79646","#8EB4E3","#D99694"]}},
     "size":{"field":"s","type":"nominal","legend":null,"scale":{"domain":["0.01","0.1","0.2","0.3","0.4","0.5","0.6","0.7"],"range":[40,44,56,32,40,56,44,40]}}
    }},
   {"mark":{"type":"line","color":"black","strokeWidth":1.2,"interpolate":"monotone"},
    "encoding":{"detail":{"field":"s","type":"nominal"}}}
  ]},
 {"width":418,"height":295,"data":{"name":"b"},
  "encoding":{
   "x":{"field":"t","type":"quantitative","scale":{"domain":[0,40],"nice":false},"axis":{"title":"Time (h)","values":[0,5,10,15,20,25,30,35,40],"labelExpr":"datum.value % 10 == 0 ? datum.label : ''","titlePadding":12}},
   "y":{"field":"H","type":"quantitative","scale":{"domain":[0,1.2],"nice":false},"axis":{"title":"H","values":[0,0.2,0.4,0.6,0.8,1,1.2],"format":".1f","titleFontStyle":"italic","titleAngle":0,"titleX":-63,"titleY":147,"titleAlign":"center","titleBaseline":"middle"}}
  },
  "layer":[
   {"mark":{"type":"point","opacity":1,"strokeWidth":1.3},
    "encoding":{
     "shape":{"field":"s","type":"nominal","legend":null,"scale":{"domain":["0.02","0.05","0.1","0.2","0.3","0.4","0.7","1"],"range":["diamond","square","triangle-up","M-1,-1L1,1M-1,1L1,-1","M-1,-1L1,1M-1,1L1,-1M-0.6,-1H0.6M-0.6,1H0.6","circle","M-1,0H1M0,-1V1","M-1,-0.35H1V0.35H-1Z"]}},
     "fill":{"field":"s","type":"nominal","legend":null,"scale":{"domain":["0.02","0.05","0.1","0.2","0.3","0.4","0.7","1"],"range":["#4A7EBB","#BE4B48","#98B954","transparent","transparent","#F79646","transparent","#D99694"]}},
     "stroke":{"field":"s","type":"nominal","legend":null,"scale":{"domain":["0.02","0.05","0.1","0.2","0.3","0.4","0.7","1"],"range":["#4A7EBB","#BE4B48","#98B954","#7D60A0","#46AAC5","#F79646","#8EB4E3","#D99694"]}},
     "size":{"field":"s","type":"nominal","legend":null,"scale":{"domain":["0.02","0.05","0.1","0.2","0.3","0.4","0.7","1"],"range":[40,44,56,32,40,56,44,40]}}
    }},
   {"mark":{"type":"line","color":"black","strokeWidth":1.2,"interpolate":"monotone"},
    "encoding":{"detail":{"field":"s","type":"nominal"}}}
  ]},
 {"width":430,"height":110,"data":{"name":"legA"},
  "transform":[{"window":[{"op":"row_number","as":"i"}]},{"calculate":"floor((datum.i-1)/4)","as":"col"},{"calculate":"(datum.i-1)%4","as":"row"}],
  "title":{"text":"(a)\u00a0 The influence of parameter A","orient":"bottom","anchor":"middle","offset":19,"dx":-10,"fontSize":20},
  "encoding":{
   "x":{"field":"col","type":"quantitative","scale":{"domain":[0,1],"range":[19.5,193.5]},"axis":null},
   "y":{"field":"row","type":"quantitative","scale":{"domain":[0,3],"range":[16,101]},"axis":null}
  },
  "layer":[
   {"mark":{"type":"rule","xOffset":-17,"x2Offset":17,"color":"black","strokeWidth":1.3},"encoding":{"x2":{"field":"col"}}},
   {"mark":{"type":"point","opacity":1,"strokeWidth":1.3},
    "encoding":{
     "shape":{"field":"s","type":"nominal","legend":null,"scale":{"domain":["0.01","0.1","0.2","0.3","0.4","0.5","0.6","0.7"],"range":["diamond","square","triangle-up","M-1,-1L1,1M-1,1L1,-1","M-1,-1L1,1M-1,1L1,-1M-0.6,-1H0.6M-0.6,1H0.6","circle","M-1,0H1M0,-1V1","M-1,-0.35H1V0.35H-1Z"]}},
     "fill":{"field":"s","type":"nominal","legend":null,"scale":{"domain":["0.01","0.1","0.2","0.3","0.4","0.5","0.6","0.7"],"range":["#4A7EBB","#BE4B48","#98B954","transparent","transparent","#F79646","transparent","#D99694"]}},
     "stroke":{"field":"s","type":"nominal","legend":null,"scale":{"domain":["0.01","0.1","0.2","0.3","0.4","0.5","0.6","0.7"],"range":["#4A7EBB","#BE4B48","#98B954","#7D60A0","#46AAC5","#F79646","#8EB4E3","#D99694"]}},
     "size":{"field":"s","type":"nominal","legend":null,"scale":{"domain":["0.01","0.1","0.2","0.3","0.4","0.5","0.6","0.7"],"range":[40,44,56,32,40,56,44,40]}}
    }},
   {"mark":{"type":"text","align":"left","baseline":"middle","dx":30,"fontStyle":"italic"},"encoding":{"text":{"field":"k"}}},
   {"mark":{"type":"text","align":"left","baseline":"middle","dx":47},"encoding":{"text":{"field":"lab"}}}
  ]},
 {"width":418,"height":110,"data":{"name":"legB"},
  "transform":[{"window":[{"op":"row_number","as":"i"}]},{"calculate":"floor((datum.i-1)/4)","as":"col"},{"calculate":"(datum.i-1)%4","as":"row"}],
  "title":{"text":"(b)\u00a0 The influence of parameter B","orient":"bottom","anchor":"middle","offset":19,"dx":-19,"fontSize":20},
  "encoding":{
   "x":{"field":"col","type":"quantitative","scale":{"domain":[0,1],"range":[19.5,193.5]},"axis":null},
   "y":{"field":"row","type":"quantitative","scale":{"domain":[0,3],"range":[16,101]},"axis":null}
  },
  "layer":[
   {"mark":{"type":"rule","xOffset":-17,"x2Offset":17,"color":"black","strokeWidth":1.3},"encoding":{"x2":{"field":"col"}}},
   {"mark":{"type":"point","opacity":1,"strokeWidth":1.3},
    "encoding":{
     "shape":{"field":"s","type":"nominal","legend":null,"scale":{"domain":["0.02","0.05","0.1","0.2","0.3","0.4","0.7","1"],"range":["diamond","square","triangle-up","M-1,-1L1,1M-1,1L1,-1","M-1,-1L1,1M-1,1L1,-1M-0.6,-1H0.6M-0.6,1H0.6","circle","M-1,0H1M0,-1V1","M-1,-0.35H1V0.35H-1Z"]}},
     "fill":{"field":"s","type":"nominal","legend":null,"scale":{"domain":["0.02","0.05","0.1","0.2","0.3","0.4","0.7","1"],"range":["#4A7EBB","#BE4B48","#98B954","transparent","transparent","#F79646","transparent","#D99694"]}},
     "stroke":{"field":"s","type":"nominal","legend":null,"scale":{"domain":["0.02","0.05","0.1","0.2","0.3","0.4","0.7","1"],"range":["#4A7EBB","#BE4B48","#98B954","#7D60A0","#46AAC5","#F79646","#8EB4E3","#D99694"]}},
     "size":{"field":"s","type":"nominal","legend":null,"scale":{"domain":["0.02","0.05","0.1","0.2","0.3","0.4","0.7","1"],"range":[40,44,56,32,40,56,44,40]}}
    }},
   {"mark":{"type":"text","align":"left","baseline":"middle","dx":30,"fontStyle":"italic"},"encoding":{"text":{"field":"k"}}},
   {"mark":{"type":"text","align":"left","baseline":"middle","dx":47},"encoding":{"text":{"field":"lab"}}}
  ]}
],
"config":{
 "view":{"stroke":null},
 "axis":{"labelFont":"Liberation Serif","titleFont":"Liberation Serif","labelFontSize":18,"titleFontSize":18,"labelColor":"black","titleColor":"black","titleFontWeight":"normal","domainColor":"black","tickColor":"black","tickSize":4,"grid":false,"labelPadding":4},
 "text":{"font":"Liberation Serif","fontSize":18,"color":"black"},
 "title":{"font":"Liberation Serif","fontSize":18,"fontWeight":"normal","color":"black","baseline":"top"}
}
}
